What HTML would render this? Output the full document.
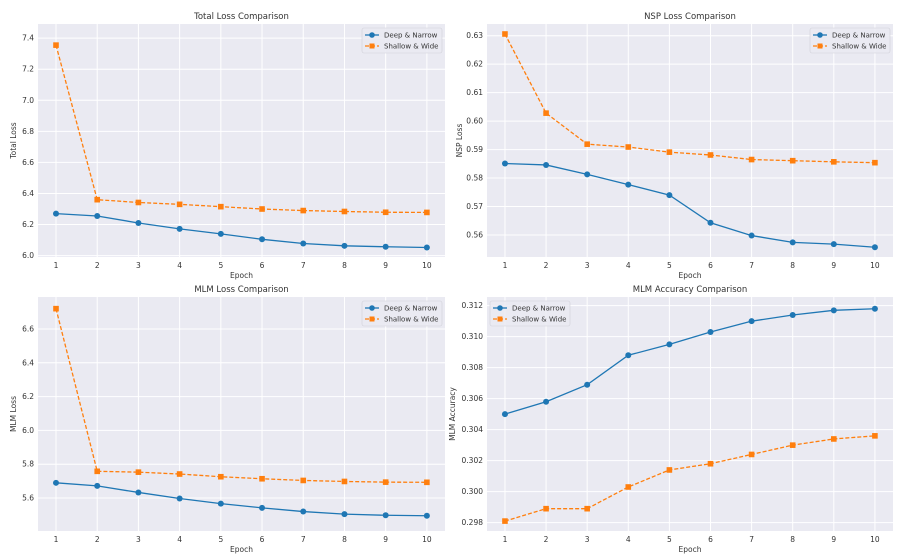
<!DOCTYPE html>
<html><head><meta charset="utf-8"><style>
html,body{margin:0;padding:0;background:#fff;}
svg{display:block;font-family:"DejaVu Sans","Liberation Sans",sans-serif;}
</style></head><body>
<svg id="chart" width="908" height="560" viewBox="0 0 908 560" xmlns="http://www.w3.org/2000/svg"></svg>
<script>
const epochs = [1,2,3,4,5,6,7,8,9,10];
const totalDeep = [6.27,6.255,6.21,6.172,6.14,6.105,6.078,6.063,6.057,6.052];
const totalShallow = [7.355,6.36,6.342,6.33,6.315,6.30,6.29,6.284,6.279,6.278];
const totalTicks = [6.0,6.2,6.4,6.6,6.8,7.0,7.2,7.4];
const nspDeep = [0.5851,0.5846,0.5813,0.5777,0.5740,0.5643,0.5598,0.5574,0.5568,0.5557];
const nspShallow = [0.6306,0.6028,0.5919,0.5909,0.5891,0.5881,0.5865,0.5861,0.5857,0.5854];
const nspTicks = [0.56,0.57,0.58,0.59,0.60,0.61,0.62,0.63];
const mlmDeep = [5.69,5.672,5.633,5.597,5.567,5.542,5.52,5.505,5.498,5.495];
const mlmShallow = [6.72,5.758,5.753,5.742,5.726,5.714,5.704,5.698,5.694,5.693];
const mlmTicks = [5.6,5.8,6.0,6.2,6.4,6.6];
const accDeep = [0.3050,0.3058,0.3069,0.3088,0.3095,0.3103,0.3110,0.3114,0.3117,0.3118];
const accShallow = [0.2981,0.2989,0.2989,0.3003,0.3014,0.3018,0.3024,0.3030,0.3034,0.3036];
const accTicks = [0.298,0.300,0.302,0.304,0.306,0.308,0.310,0.312];

const NS='http://www.w3.org/2000/svg';
const svg=document.getElementById('chart');
function mk(tag,attrs,parent){const e=document.createElementNS(NS,tag);for(const k in attrs)e.setAttribute(k,attrs[k]);(parent||svg).appendChild(e);return e;}

function panel(cfg){
  const g=mk('g',{});
  
  
  const {x0,x1,y0,y1,lo,hi}=cfg;
  const xs=e=>x0+(e-0.563)/(10.44-0.563)*(x1-x0);
  const ys=v=>y1-(v-lo)/(hi-lo)*(y1-y0);
  const bg=mk('rect',{x:x0,y:y0,width:x1-x0,height:y1-y0,fill:'#eaeaf2'},g);
  
  
  epochs.forEach(e=>{
    mk('line',{x1:xs(e),x2:xs(e),y1:y0,y2:y1,stroke:'#fff','stroke-width':1},g);
    const t=mk('text',{x:xs(e),y:y1+11,'font-size':7.5,fill:'#333','text-anchor':'middle'},g);
    t.textContent=e;
    
    
  });
  cfg.ticks.forEach(v=>{
    mk('line',{x1:x0,x2:x1,y1:ys(v),y2:ys(v),stroke:'#fff','stroke-width':1},g);
    const t=mk('text',{x:x0-4,y:ys(v)+2.5,'font-size':7.5,fill:'#333','text-anchor':'end'},g);
    t.textContent=v.toFixed(cfg.dec);
    
    
  });
  const tt=mk('text',{x:(x0+x1)/2,y:y0-5,'font-size':8.5,fill:'#333','text-anchor':'middle'},g);
  tt.textContent=cfg.title;
  
  
  const xl=mk('text',{x:(x0+x1)/2,y:y1+21,'font-size':7.5,fill:'#333','text-anchor':'middle'},g);
  xl.textContent='Epoch';
  
  
  const yl=mk('text',{x:0,y:0,'font-size':7.5,fill:'#333','text-anchor':'middle',transform:`translate(${cfg.ylx},${(y0+y1)/2}) rotate(-90)`},g);
  yl.textContent=cfg.ylabel;
  
  
  // series
  const dpts=cfg.deep.map((v,i)=>xs(epochs[i])+','+ys(v)).join(' ');
  const dl=mk('polyline',{points:dpts,fill:'none',stroke:'#1f77b4','stroke-width':1.3},g);
  
  
  cfg.deep.forEach((v,i)=>{
    const c=mk('circle',{cx:xs(epochs[i]),cy:ys(v),r:3,fill:'#1f77b4'},g);
    
    
  });
  const spts=cfg.shallow.map((v,i)=>xs(epochs[i])+','+ys(v)).join(' ');
  const sl=mk('polyline',{points:spts,fill:'none',stroke:'#ff7f0e','stroke-width':1.3,'stroke-dasharray':'4,2'},g);
  
  
  cfg.shallow.forEach((v,i)=>{
    const r=mk('rect',{x:xs(epochs[i])-2.8,y:ys(v)-2.8,width:5.6,height:5.6,fill:'#ff7f0e'},g);
    
    
  });
  // legend
  const lx=cfg.legendLeft?x0+3:x1-83, ly=y0+4;
  const lg=mk('g',{},g);
  
  
  mk('rect',{x:lx,y:ly,width:80,height:25,rx:2,fill:'#eaeaf2',stroke:'#d0d0d8','stroke-width':0.6,'fill-opacity':0.85},lg);
  mk('line',{x1:lx+3,x2:lx+17,y1:ly+7,y2:ly+7,stroke:'#1f77b4','stroke-width':1.3},lg);
  mk('circle',{cx:lx+10,cy:ly+7,r:2.8,fill:'#1f77b4'},lg);
  const t1=mk('text',{x:lx+22,y:ly+9.5,'font-size':7,fill:'#333'},lg);t1.textContent='Deep & Narrow';
  
  
  mk('line',{x1:lx+3,x2:lx+17,y1:ly+18,y2:ly+18,stroke:'#ff7f0e','stroke-width':1.3,'stroke-dasharray':'4,2'},lg);
  mk('rect',{x:lx+7.5,y:ly+15.5,width:5,height:5,fill:'#ff7f0e'},lg);
  const t2=mk('text',{x:lx+22,y:ly+20.5,'font-size':7,fill:'#333'},lg);t2.textContent='Shallow & Wide';
  
  
}

panel({name:'total-loss-panel',title:'Total Loss Comparison',ylabel:'Total Loss',x0:38,x1:445,y0:24,y1:257,lo:5.991,hi:7.491,ticks:totalTicks,dec:1,deep:totalDeep,shallow:totalShallow,ylx:16});
panel({name:'nsp-loss-panel',title:'NSP Loss Comparison',ylabel:'NSP Loss',x0:487,x1:893,y0:24,y1:257,lo:0.55227,hi:0.63411,ticks:nspTicks,dec:2,deep:nspDeep,shallow:nspShallow,ylx:462});
panel({name:'mlm-loss-panel',title:'MLM Loss Comparison',ylabel:'MLM Loss',x0:38,x1:445,y0:297,y1:531,lo:5.405,hi:6.789,ticks:mlmTicks,dec:1,deep:mlmDeep,shallow:mlmShallow,ylx:16});
panel({name:'mlm-accuracy-panel',title:'MLM Accuracy Comparison',ylabel:'MLM Accuracy',x0:487,x1:893,y0:297,y1:531,lo:0.29746,hi:0.31256,ticks:accTicks,dec:3,deep:accDeep,shallow:accShallow,ylx:455,legendLeft:true});
</script>
</body></html>
